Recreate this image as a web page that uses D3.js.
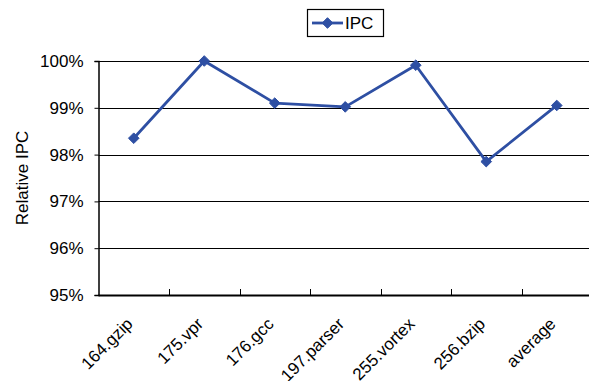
<!DOCTYPE html>
<html>
<head>
<meta charset="utf-8">
<script src="https://cdn.jsdelivr.net/npm/d3@7"></script>
<style>
  html, body { margin: 0; padding: 0; background: #fff; }
  svg { display: block; font-family: "Liberation Sans", Arial, sans-serif; }
</style>
</head>
<body>
<svg id="chart" width="589" height="381"></svg>
<script>
// Benchmarks and relative IPC (percent)
const categories = ["164.gzip", "175.vpr", "176.gcc", "197.parser", "255.vortex", "256.bzip", "average"];
const ipcValues = [98.35, 100.0, 99.10, 99.02, 99.91, 97.85, 99.05];
const yTicks = [95, 96, 97, 98, 99, 100];
const seriesName = "IPC";
const yTitle = "Relative IPC";

const svg = d3.select("#chart");
const margin = { left: 98.5, top: 61, bottom: 295 };
const bandW = 70.5;
const blue = "#2E4FA3";
const fontSize = 17;

const x = d3.scaleBand()
  .domain(categories)
  .range([margin.left, margin.left + bandW * categories.length])
  .paddingInner(0).paddingOuter(0);

const y = d3.scaleLinear().domain([95, 100]).range([margin.bottom, margin.top]);

// Horizontal gridlines
svg.append("g")
  .selectAll("line")
  .data(yTicks)
  .join("line")
  .attr("x1", margin.left)
  .attr("x2", x.range()[1])
  .attr("y1", d => Math.round(y(d)) + 0.5)
  .attr("y2", d => Math.round(y(d)) + 0.5)
  .attr("stroke", "#000")
  .attr("stroke-width", 1.2);

// Y axis
const yAxis = d3.axisLeft(y)
  .tickValues(yTicks)
  .tickSize(4)
  .tickFormat(d => d + "%");
const gy = svg.append("g").attr("transform", `translate(${margin.left},0)`).call(yAxis);
gy.select(".domain").attr("stroke", "#000").attr("stroke-width", 1.5);
gy.selectAll(".tick line").attr("stroke", "#000");
gy.selectAll(".tick text")
  .attr("x", -15)
  .attr("font-size", fontSize)
  .attr("font-family", "Liberation Sans, Arial, sans-serif")
  .attr("fill", "#000");

// X axis baseline with band-boundary ticks pointing up
svg.append("line")
  .attr("x1", margin.left).attr("x2", x.range()[1])
  .attr("y1", margin.bottom + 0.5).attr("y2", margin.bottom + 0.5)
  .attr("stroke", "#000").attr("stroke-width", 2);
svg.append("g")
  .selectAll("line")
  .data(categories.slice(1))
  .join("line")
  .attr("x1", d => Math.round(x(d)) + 0.5)
  .attr("x2", d => Math.round(x(d)) + 0.5)
  .attr("y1", margin.bottom)
  .attr("y2", margin.bottom - 6)
  .attr("stroke", "#000")
  .attr("stroke-width", 1);

// Category labels, rotated
svg.append("g")
  .selectAll("text")
  .data(categories)
  .join("text")
  .attr("transform", d => `translate(${x(d) + x.bandwidth() / 2},${margin.bottom + 30}) rotate(-45)`)
  .attr("text-anchor", "end")
  .attr("font-size", fontSize)
  .attr("fill", "#000")
  .text(d => d);

// Y title
svg.append("text")
  .attr("transform", `translate(28,${(margin.top + margin.bottom) / 2}) rotate(-90)`)
  .attr("text-anchor", "middle")
  .attr("font-size", fontSize)
  .attr("fill", "#000")
  .text(yTitle);

// Series line
const cx = d => x(d) + x.bandwidth() / 2;
const line = d3.line()
  .x((d, i) => cx(categories[i]))
  .y(d => y(d));
svg.append("path")
  .datum(ipcValues)
  .attr("d", line)
  .attr("fill", "none")
  .attr("stroke", blue)
  .attr("stroke-width", 2.8)
  .attr("stroke-linejoin", "round");

const diamond = d3.symbol().type(d3.symbolDiamond2).size(72);
svg.append("g")
  .selectAll("path")
  .data(ipcValues)
  .join("path")
  .attr("transform", (d, i) => `translate(${cx(categories[i])},${y(d)})`)
  .attr("d", diamond)
  .attr("fill", blue)
  .attr("stroke", blue)
  .attr("stroke-width", 1);

// Legend
const lg = svg.append("g");
lg.append("rect")
  .attr("x", 307.5).attr("y", 9.5)
  .attr("width", 76).attr("height", 27)
  .attr("fill", "#fff").attr("stroke", "#000").attr("stroke-width", 1.2);
lg.append("line")
  .attr("x1", 312).attr("x2", 343).attr("y1", 23).attr("y2", 23)
  .attr("stroke", blue).attr("stroke-width", 2.8);
lg.append("path")
  .attr("transform", "translate(327.5,23)")
  .attr("d", diamond)
  .attr("fill", blue).attr("stroke", blue);
lg.append("text")
  .attr("x", 345).attr("y", 29)
  .attr("font-size", fontSize)
  .attr("fill", "#000")
  .text(seriesName);
</script>
</body>
</html>
